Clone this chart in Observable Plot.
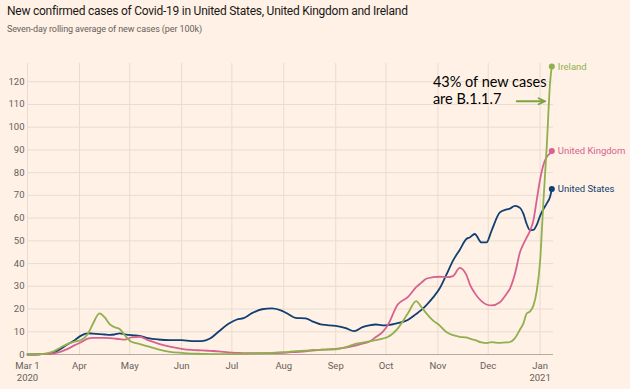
<!DOCTYPE html>
<html>
<head>
<meta charset="utf-8">
<script src="https://cdn.jsdelivr.net/npm/d3@7"></script>
<script src="https://cdn.jsdelivr.net/npm/@observablehq/plot@0.6"></script>
<style>
  html, body { margin: 0; padding: 0; background: #fff1e5; }
  #wrap { position: relative; width: 630px; height: 389px; overflow: hidden; font-family: "Roboto", "Noto Sans", sans-serif; }
  #title { position: absolute; left: 7px; top: 4px; font-size: 12px; color: #1a1817; white-space: nowrap; letter-spacing: -0.25px; }
  #subtitle { position: absolute; left: 7px; top: 24px; font-size: 9px; color: #66605c; white-space: nowrap; letter-spacing: -0.1px; }
  #chart { position: absolute; left: 0; top: 45px; }
</style>
</head>
<body>
<div id="wrap">
  <div id="title">New confirmed cases of Covid-19 in United States, United Kingdom and Ireland</div>
  <div id="subtitle">Seven-day rolling average of new cases (per 100k)</div>
  <div id="chart"></div>
</div>
<script>
const dates = ["2020-03-01","2020-03-08","2020-03-13","2020-03-17","2020-03-21","2020-03-25","2020-03-29","2020-04-02","2020-04-06","2020-04-09","2020-04-13","2020-04-16","2020-04-19","2020-04-22","2020-04-25","2020-04-28","2020-05-02","2020-05-07","2020-05-12","2020-05-18","2020-05-25","2020-06-01","2020-06-07","2020-06-13","2020-06-18","2020-06-23","2020-06-29","2020-07-04","2020-07-08","2020-07-13","2020-07-19","2020-07-25","2020-07-31","2020-08-04","2020-08-08","2020-08-14","2020-08-18","2020-08-24","2020-09-01","2020-09-07","2020-09-12","2020-09-17","2020-09-21","2020-09-25","2020-09-29","2020-10-02","2020-10-08","2020-10-14","2020-10-19","2020-10-22","2020-10-25","2020-10-29","2020-11-02","2020-11-06","2020-11-10","2020-11-14","2020-11-18","2020-11-20","2020-11-23","2020-11-27","2020-11-30","2020-12-03","2020-12-08","2020-12-12","2020-12-14","2020-12-17","2020-12-20","2020-12-22","2020-12-24","2020-12-26","2020-12-28","2020-12-30","2021-01-01","2021-01-03","2021-01-05","2021-01-07","2021-01-08"];

const usValues = [0,0.1,0.3,1.0,2.5,4.5,6.2,8.3,9.3,9.2,9.0,8.8,8.6,8.8,9.3,8.9,8.5,8.2,7.2,6.6,6.3,6.3,5.9,5.9,7.0,10.0,13.5,15.4,16.0,18.2,19.9,20.3,19.2,17.6,16.1,15.9,14.6,13.1,12.6,11.6,10.3,12.0,12.8,13.2,12.8,12.9,13.8,15.2,17.8,19.5,21.6,25.0,29.0,35.0,41.3,46.0,50.8,51.5,53.0,49.3,49.3,54.4,62.5,63.8,64.2,65.4,64.5,62.0,57.4,54.6,54.8,57.0,61.0,64.0,66.5,69.5,72.8];

const ukValues = [0,0.1,0.2,0.5,1.3,2.5,4.0,5.4,7.0,7.3,7.3,7.3,7.2,7.0,6.8,6.5,7.5,7.8,6.3,4.8,3.5,2.5,2.0,1.8,1.6,1.4,0.9,0.7,0.6,0.6,0.6,0.6,0.7,0.9,1.1,1.4,1.7,2.1,2.5,3.0,3.8,4.8,5.6,7.7,10.0,12.8,22.0,25.2,29.6,31.5,33.3,34.0,34.2,34.0,34.5,38.1,35.0,31.0,27.0,23.5,22.0,21.6,23.0,26.7,29.0,35.5,45.0,48.5,51.5,54.4,59.0,68.0,77.0,83.5,87.0,88.5,89.5];

const ieValues = [0,0.1,0.6,1.5,3.2,4.7,5.7,6.4,9.0,13.4,18.1,16.4,13.4,12.0,11.2,8.5,5.6,4.6,3.6,2.3,1.2,0.7,0.4,0.3,0.2,0.2,0.2,0.2,0.3,0.4,0.5,0.7,1.0,1.2,1.5,1.7,2.0,2.1,2.3,3.2,4.5,5.2,5.8,6.3,7.0,7.7,11.4,18.0,23.5,21.0,18.2,15.0,12.8,9.9,8.5,7.8,7.5,7.0,6.4,5.3,5.0,5.4,5.1,5.3,5.5,7.2,11.0,13.6,18.0,19.0,21.5,28.0,41.0,67.6,92.0,120.0,126.7];

const seriesNames = ["United States", "United Kingdom", "Ireland"];
const seriesColors = ["#0f3f73", "#d6628f", "#8fb04f"];
const yTicks = [0,10,20,30,40,50,60,70,80,90,100,110,120];
const monthTicks = ["2020-03-01","2020-04-01","2020-05-01","2020-06-01","2020-07-01","2020-08-01","2020-09-01","2020-10-01","2020-11-01","2020-12-01","2021-01-01"];
const monthLabels = ["Mar 1\n2020","Apr","May","Jun","Jul","Aug","Sep","Oct","Nov","Dec","Jan\n2021"];
const annotationLines = ["43% of new cases", "are B.1.1.7"];

const parse = d3.utcParse("%Y-%m-%d");
const valueSets = [usValues, ukValues, ieValues];
const rows = [];
seriesNames.forEach((name, i) => {
  dates.forEach((d, j) => rows.push({series: name, date: parse(d), value: valueSets[i][j]}));
});
const lastRows = seriesNames.map((name, i) => ({series: name, date: parse(dates[dates.length - 1]), value: valueSets[i][dates.length - 1]}));
const tickDates = monthTicks.map(parse);
const labelMap = new Map(tickDates.map((d, i) => [+d, monthLabels[i]]));

const annot = [
  {date: parse("2020-10-29"), value: 119.8, text: annotationLines[0]},
  {date: parse("2020-10-29"), value: 112.2, text: annotationLines[1]}
];
const arrowData = [{x1: parse("2020-12-18"), x2: parse("2021-01-04"), y: 111.4}];

const chart = Plot.plot({
  width: 630,
  height: 344,
  marginLeft: 27,
  marginRight: 77,
  marginTop: 18,
  marginBottom: 35,
  style: {background: "transparent", fontFamily: "Roboto, 'Noto Sans', sans-serif"},
  x: {type: "utc", domain: [parse("2020-03-01"), parse("2021-01-09")]},
  y: {domain: [0, 128]},
  color: {domain: seriesNames, range: seriesColors},
  marks: [
    Plot.gridX(tickDates, {stroke: "#e9dccf", strokeOpacity: 1}),
    Plot.gridY(yTicks.slice(1), {stroke: "#e9dccf", strokeOpacity: 1}),
    Plot.ruleY([0], {stroke: "#b5aba2", strokeWidth: 1}),
    Plot.axisX({ticks: tickDates, tickFormat: d => labelMap.get(+d), tickSize: 0, tickPadding: 6, fontSize: 9.5, fill: "#66605c", lineHeight: 1.25}),
    Plot.axisY({ticks: yTicks, tickSize: 0, tickPadding: 3, fontSize: 9.5, fill: "#66605c"}),
    Plot.line(rows, {x: "date", y: "value", z: "series", stroke: "series", strokeWidth: 1.8, curve: "monotone-x"}),
    Plot.dot(lastRows, {x: "date", y: "value", fill: "series", r: 3}),
    Plot.text(lastRows, {x: "date", y: "value", text: "series", fill: "series", dx: 6, textAnchor: "start", fontSize: 9.5}),
    Plot.text(annot, {x: "date", y: "value", text: "text", textAnchor: "start", fontSize: 14.5, fill: "#000", fontFamily: "Lato, 'Noto Sans', sans-serif"}),
    Plot.arrow(arrowData, {x1: "x1", x2: "x2", y1: "y", y2: "y", stroke: "#7ea346", strokeWidth: 1.8, headLength: 6, headAngle: 50})
  ]
});
document.getElementById("chart").appendChild(chart);
</script>
</body>
</html>
